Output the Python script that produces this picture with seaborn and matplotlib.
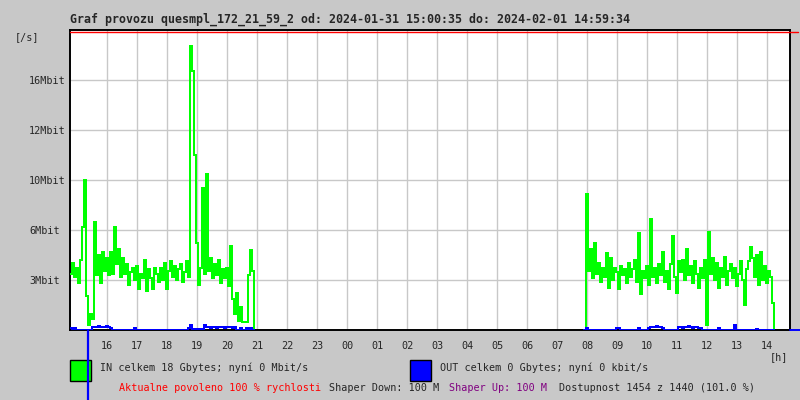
"""
Graf provozu quesmpl_172_21_59_2 - MRTG style traffic chart (IN / OUT).
"""

import pandas as pd
import matplotlib
matplotlib.use("Agg")
import matplotlib.pyplot as plt
import matplotlib.dates as mdates
from matplotlib.patches import Rectangle
import seaborn as sns

# ==========================================
# DATA (Mbit/s, one sample every 4 minutes)
# ==========================================
STEP = "4min"
IN_A_START = "2024-01-31 14:46"
IN_A = [3.6, 4.3, 3.4, 4.0, 3.0, 4.5, 6.6, 9.6, 2.2, 0.3,
        1.0, 0.7, 6.9, 3.5, 4.8, 3.0, 5.0, 3.8, 4.6, 3.5,
        5.0, 3.6, 6.6, 4.2, 5.2, 3.4, 4.6, 3.6, 4.2, 2.9,
        3.7, 4.0, 3.2, 4.1, 2.6, 3.6, 3.3, 4.5, 2.5, 3.9,
        3.3, 2.6, 4.0, 3.6, 3.1, 4.0, 3.2, 4.3, 2.6, 3.8,
        4.4, 3.4, 4.1, 3.2, 3.9, 4.2, 3.1, 3.7, 4.4, 3.4,
        18.2, 16.6, 11.2, 5.6, 2.9, 4.0, 9.1, 3.6, 10.0, 3.8,
        4.6, 3.3, 4.2, 3.5, 4.5, 3.0, 3.9, 3.3, 4.0, 2.8,
        5.4, 2.0, 1.0, 2.4, 0.6, 1.5, 0.5, 0.5, 0.5, 3.5,
        5.1, 3.8, 0.0]
OUT_A = [0.1, 0.0, 0.1, 0.0, 0.0, 0.0, 0.0, 0.0, 0.0, 0.0,
         0.0, 0.2, 0.2, 0.2, 0.25, 0.2, 0.2, 0.2, 0.25, 0.2,
         0.1, 0.0, 0.0, 0.0, 0.0, 0.0, 0.0, 0.0, 0.0, 0.0,
         0.0, 0.0, 0.1, 0.0, 0.0, 0.0, 0.0, 0.0, 0.0, 0.0,
         0.0, 0.0, 0.0, 0.0, 0.0, 0.0, 0.0, 0.0, 0.0, 0.0,
         0.0, 0.0, 0.0, 0.0, 0.0, 0.0, 0.0, 0.0, 0.0, 0.1,
         0.3, 0.05, 0.05, 0.05, 0.05, 0.05, 0.05, 0.3, 0.2, 0.2,
         0.15, 0.2, 0.2, 0.15, 0.2, 0.2, 0.2, 0.15, 0.2, 0.2,
         0.2, 0.15, 0.2, 0.0, 0.0, 0.1, 0.0, 0.0, 0.1, 0.0,
         0.1, 0.0, 0.0]

IN_B_START = "2024-02-01 07:54"
IN_B = [0.0, 8.7, 3.8, 5.2, 3.3, 5.6, 3.6, 4.3, 3.1, 4.0,
        3.4, 4.9, 2.7, 4.6, 3.2, 4.0, 3.7, 2.6, 4.1, 3.5,
        3.9, 3.0, 4.3, 3.4, 3.9, 4.5, 3.1, 6.2, 2.3, 3.8,
        3.3, 4.1, 2.9, 7.1, 3.4, 4.0, 3.0, 4.2, 3.5, 5.0,
        3.1, 3.8, 2.6, 4.2, 6.0, 3.4, 2.4, 4.4, 3.7, 4.5,
        3.2, 5.2, 3.5, 4.1, 3.0, 4.4, 3.6, 2.7, 4.0, 3.3,
        4.5, 0.3, 6.3, 3.6, 4.6, 3.2, 4.3, 2.7, 4.0, 3.4,
        4.7, 2.9, 3.8, 4.2, 3.3, 4.0, 2.8, 3.6, 4.4, 3.2,
        1.6, 3.9, 4.4, 5.3, 4.6, 3.4, 4.8, 2.9, 5.0, 3.2,
        4.1, 3.0, 3.8, 3.4, 1.7, 0.0]
OUT_B = [0.0, 0.1, 0.0, 0.0, 0.0, 0.0, 0.0, 0.0, 0.0, 0.0,
         0.0, 0.0, 0.0, 0.0, 0.0, 0.0, 0.15, 0.15, 0.0, 0.0,
         0.0, 0.0, 0.0, 0.0, 0.0, 0.0, 0.0, 0.1, 0.0, 0.0,
         0.0, 0.0, 0.15, 0.2, 0.2, 0.2, 0.25, 0.2, 0.2, 0.1,
         0.0, 0.0, 0.0, 0.0, 0.0, 0.0, 0.0, 0.2, 0.2, 0.15,
         0.2, 0.2, 0.25, 0.2, 0.15, 0.2, 0.2, 0.15, 0.1, 0.0,
         0.0, 0.0, 0.0, 0.0, 0.0, 0.0, 0.0, 0.1, 0.0, 0.0,
         0.0, 0.0, 0.0, 0.0, 0.0, 0.3, 0.0, 0.0, 0.0, 0.0,
         0.0, 0.0, 0.0, 0.0, 0.0, 0.0, 0.05, 0.0, 0.0, 0.0,
         0.0, 0.0, 0.0, 0.0, 0.0, 0.0]

Y_TICKS = [3.2, 6.4, 9.6, 12.8, 16.0]
Y_LABELS = ["3Mbit", "6Mbit", "10Mbit", "12Mbit", "16Mbit"]
X_START = "2024-01-31 14:46"
X_END = "2024-02-01 14:46"
X_FIRST_TICK = "2024-01-31 16:00"
X_LAST_TICK = "2024-02-01 14:00"

TITLE = "Graf provozu quesmpl_172_21_59_2 od: 2024-01-31 15:00:35 do: 2024-02-01 14:59:34"
IN_TEXT = "IN celkem 18 Gbytes; nyní 0 Mbit/s"
OUT_TEXT = "OUT celkem 0 Gbytes; nyní 0 kbit/s"

GREEN = "#00ff00"
BLUE = "#0000ff"
BG = "#c8c8c8"
GRID = "#c8c8c8"


def segment(start, values, name):
    t = pd.date_range(start, periods=len(values), freq=STEP)
    return pd.DataFrame({"time": t, "value": values, "seg": name})


df_in = pd.concat([segment(IN_A_START, IN_A, "a"), segment(IN_B_START, IN_B, "b")])
df_out = pd.concat([segment(IN_A_START, OUT_A, "a"), segment(IN_B_START, OUT_B, "b")])

# ==========================================
# FIGURE
# ==========================================
sns.set_style("white")
plt.rcParams["font.family"] = ["DejaVu Sans Mono", "DejaVu Sans"]

W, H = 800, 400
fig = plt.figure(figsize=(8, 4), dpi=100, facecolor=BG)
ax = fig.add_axes([70 / W, 1 - 330 / H, 720 / W, 300 / H])
ax.set_facecolor("white")


def fx(px):
    return px / W


def fy(py):
    return 1 - py / H


for seg, d in df_in.groupby("seg"):
    sns.lineplot(data=d, x="time", y="value", color=GREEN, lw=1.2,
                 drawstyle="steps-post", estimator=None, antialiased=False,
                 ax=ax, zorder=3)
for seg, d in df_out.groupby("seg"):
    sns.lineplot(data=d, x="time", y="value", color=BLUE, lw=1.3,
                 drawstyle="steps-post", estimator=None, antialiased=False,
                 ax=ax, zorder=4)

ax.set_xlim(pd.Timestamp(X_START), pd.Timestamp(X_END))
ax.set_ylim(0, 19.2)
ax.set_xlabel("")
ax.set_ylabel("")

x_ticks = pd.date_range(X_FIRST_TICK, X_LAST_TICK, freq="h")
ax.set_xticks(x_ticks)
ax.xaxis.set_major_formatter(mdates.DateFormatter("%H"))
ax.set_yticks(Y_TICKS)
ax.set_yticklabels(Y_LABELS, ha="left")
ax.tick_params(axis="y", length=0, pad=29.5, labelsize=7.3)
ax.tick_params(axis="x", length=0, pad=8, labelsize=7.3)
ax.grid(True, color=GRID, lw=1.0)
ax.set_axisbelow(True)

for side in ["left", "bottom", "right", "top"]:
    ax.spines[side].set_visible(True)
    ax.spines[side].set_color("black")
    ax.spines[side].set_linewidth(1.4)

# red max line along the top, blue arrow stub on the right
ax.plot([0, 1.011], [0.995, 0.995], transform=ax.transAxes, color="#ff0000",
        lw=1.0, clip_on=False, zorder=6)
ax.plot([1, 1.014], [0, 0], transform=ax.transAxes, color=BLUE,
        lw=1.4, clip_on=False, zorder=6)

# blue marker below the axis
fig.add_artist(plt.Line2D([fx(88), fx(88)], [fy(331), 0], color=BLUE, lw=1.6))

fig.text(fx(70), fy(19), TITLE, fontsize=8.4, fontweight="bold", va="center")
fig.text(fx(15), fy(37), "[/s]", fontsize=7.3, va="center")
fig.text(fx(770), fy(357), "[h]", fontsize=7.3, va="center")

fig.add_artist(Rectangle((fx(70), fy(381)), 21 / W, 21 / H, facecolor=GREEN,
                         edgecolor="black", lw=1.0, transform=fig.transFigure))
fig.add_artist(Rectangle((fx(410), fy(381)), 21 / W, 21 / H, facecolor=BLUE,
                         edgecolor="black", lw=1.0, transform=fig.transFigure))
fig.text(fx(100), fy(368), IN_TEXT, fontsize=7.3, va="center")
fig.text(fx(440), fy(368), OUT_TEXT, fontsize=7.3, va="center")

fig.text(fx(119), fy(388), "Aktualne povoleno 100 % rychlosti", fontsize=7.3,
         color="#ff0000", va="center")
fig.text(fx(329), fy(388), "Shaper Down: 100 M", fontsize=7.3, va="center")
fig.text(fx(449), fy(388), "Shaper Up: 100 M", fontsize=7.3, color="#800080",
         va="center")
fig.text(fx(559), fy(388), "Dostupnost 1454 z 1440 (101.0 %)", fontsize=7.3,
         va="center")

legend = ax.get_legend()
if legend:
    legend.remove()

plt.savefig("out.png", dpi=100, facecolor=BG)
